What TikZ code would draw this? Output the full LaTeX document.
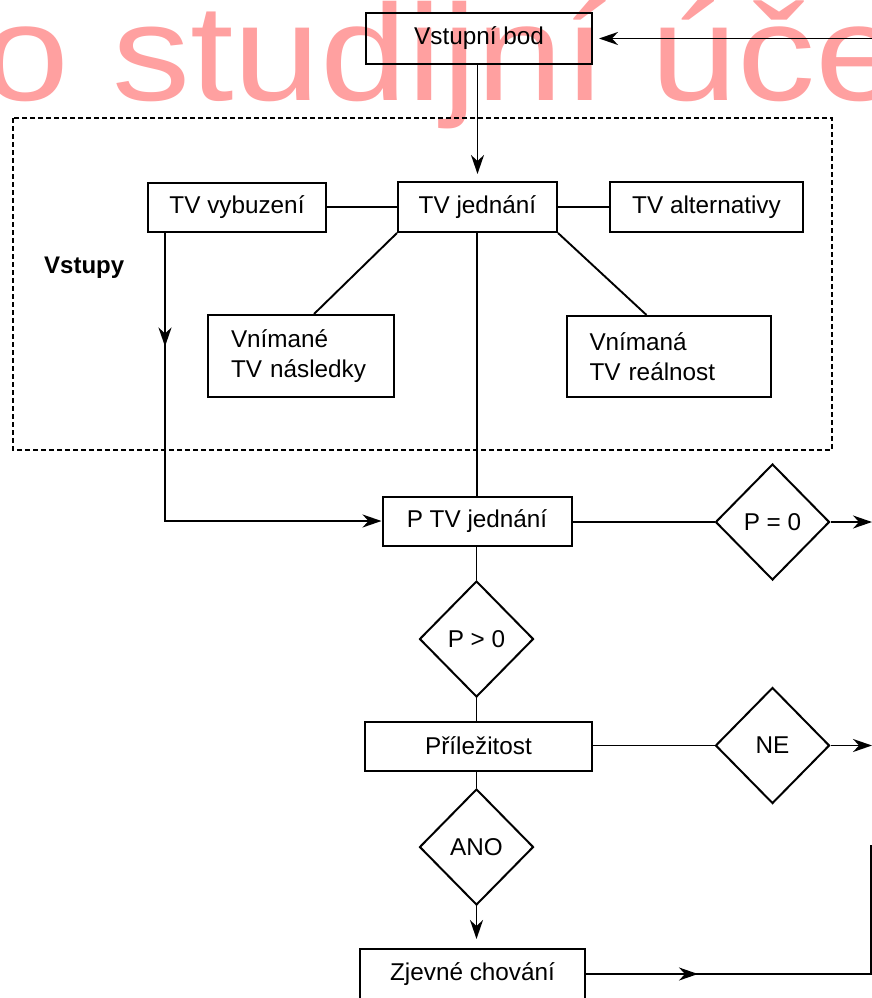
\documentclass[tikz,border=0pt]{standalone}
\usepackage{fontspec}
\setmainfont{Liberation Sans}
\usetikzlibrary{arrows.meta,shapes.geometric,decorations.markings}
\definecolor{wmark}{RGB}{255,160,160}
\begin{document}
\begin{tikzpicture}[x=1pt,y=-1pt,
  every node/.style={font=\fontsize{24.3}{30}\selectfont},
  box/.style={draw,line width=2pt,inner sep=0pt},
  dia/.style={draw,diamond,line width=2pt,inner sep=0pt,minimum width=114pt,minimum height=116pt},
  conn/.style={line width=1.9pt},
  tip/.style={-{Stealth[length=19pt,width=13pt,inset=6pt]}},
  midtip/.style={decoration={markings,mark=at position #1 with {\arrow{Stealth[length=19pt,width=13pt,inset=6pt]}}},postaction=decorate}
]
\useasboundingbox (0,0) rectangle (872,998);
\fill[white] (0,0) rectangle (872,998);

% watermark
\node[anchor=base west,text=wmark,inner sep=0pt,font=\fontsize{137}{137}\selectfont] (wm) at (-18,100) {\scalebox{1.14}[1]{o studijní úče}};

% nodes
\node[box,minimum width=226pt,minimum height=51pt] (vb) at (479,38.5) {Vstupní bod};
\draw[line width=1.8pt,dash pattern=on 5pt off 3pt] (13,118) rectangle (832,450);
\node[box,minimum width=178pt,minimum height=49pt] (vyb) at (237,207) {TV vybuzení};
\node[box,minimum width=159pt,minimum height=50pt] (jed) at (477.5,207) {TV jednání};
\node[box,minimum width=193pt,minimum height=50pt] (alt) at (706.5,207) {TV alternativy};
\node[anchor=base west,inner sep=0pt,font=\fontsize{24}{30}\selectfont\bfseries] (vst) at (44,273) {Vstupy};
\node[box,minimum width=186pt,minimum height=82pt,text width=140pt,align=left,inner xsep=23pt] (vn1) at (301,356) {Vnímané\\TV následky};
\node[box,minimum width=204pt,minimum height=81pt,text width=158pt,align=left,inner xsep=23pt] (vn2) at (668.5,356.5) {Vnímaná\\TV reálnost};
\node[box,minimum width=189pt,minimum height=49pt] (ptv) at (477,521) {P TV jednání};
\node[dia] (p0) at (772.5,522) {P = 0};
\node[dia] (pg) at (476.5,639) {P > 0};
\node[box,minimum width=227pt,minimum height=49pt] (pril) at (478.5,746) {Příležitost};
\node[dia] (ne) at (772.5,745.5) {NE};
\node[dia] (ano) at (476.5,847) {ANO};
\node[box,minimum width=225pt,minimum height=50pt] (zj) at (472.5,974) {Zjevné chování};

% helper coordinates
\coordinate (inR) at (872,38.5);
\coordinate (outA) at (872,522);
\coordinate (outB) at (872,745.5);
\coordinate (loopC) at (871,974);
\coordinate (loopT) at (871,845);
\path (vn1.north west) ++(107,0) coordinate (d1);
\path (vn2.north west) ++(81,0) coordinate (d2);
\path (vyb.south west) ++(18,0) coordinate (v0);

% connectors
\draw[conn,tip,shorten >=6pt] (inR) -- (vb.east);
\draw[conn,tip,shorten >=7pt] (jed.north |- vb.south) -- (jed.north);
\draw[conn] (vyb) -- (jed);
\draw[conn] (jed) -- (alt);
\draw[conn] (jed.south west) -- (d1);
\draw[conn] (jed.south east) -- (d2);
\draw[conn] (jed.south -| ptv.north) -- (ptv.north);
\draw[conn,tip,midtip=114pt] (v0) |- (ptv.west);
\draw[conn] (ptv.east |- p0.west) -- (p0.west);
\draw[conn,tip] (p0.east) -- (outA);
\draw[conn] (pg.north |- ptv.south) -- (pg.north);
\draw[conn] (pg.south) -- (pg.south |- pril.north);
\draw[conn] (pril.east |- ne.west) -- (ne.west);
\draw[conn,tip] (ne.east) -- (outB);
\draw[conn] (ano.north |- pril.south) -- (ano.north);
\draw[conn,tip,shorten >=9pt] (ano.south) -- (ano.south |- zj.north);
\draw[conn,midtip=112pt] (zj.east) -- (loopC) -- (loopT);
\end{tikzpicture}
\end{document}
